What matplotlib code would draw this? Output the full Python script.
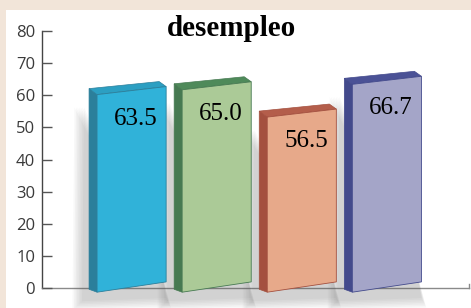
import numpy as np
import matplotlib
matplotlib.use('Agg')
import matplotlib.pyplot as plt
from matplotlib.patches import Polygon, Rectangle

# data
categories = ['A', 'B', 'C', 'D']
values = [63.5, 65.0, 56.5, 66.7]
labels = ['63.5', '65.0', '56.5', '66.7']
title = 'desempleo'
yticks = [0, 10, 20, 30, 40, 50, 60, 70, 80]

# colours: front, side/top
front_cols = ['#30b2d9', '#abca97', '#e7a98a', '#a4a5c8']
side_cols = ['#2b7f9b', '#477a52', '#a4503f', '#434a8c']
top_cols = ['#2c9fc2', '#4f8a5a', '#b45e4b', '#4b5296']

W, H = 471, 308
fig = plt.figure(figsize=(W/100, H/100), dpi=100)
fig.patch.set_facecolor('#f2e5d9')
fig.patches.append(Rectangle((6/W, 0), 1, (H-10)/H, transform=fig.transFigure,
                             facecolor='white', edgecolor='none', zorder=-5))

ax = fig.add_axes([42/W, (H-288)/H, (469-42)/W, (288-31)/H])
ax.set_zorder(2)
ax.set_facecolor('none')
ax.set_xlim(-1.053, 3.965)
ax.set_ylim(0, 80)

pxx = 85.0      # pixels per x unit
pxy = 257/80.   # pixels per y unit
hw = 69/2/pxx   # half width of front face
dx = 8/pxx
dy = 6/pxy

for i, v in enumerate(values):
    xl, xr = i - hw, i + hw
    bl, br = -1.3, 1.9
    tl, tr = v - 3.3, v - 0.8
    # soft shadow, mostly left and below
    for k in range(7):
        g = k*1.6
        sh = Polygon([(xl - dx - (7+g)/pxx, br - 6 - g/pxy), (xr + (0.5*g)/pxx, br - 5 - g/pxy),
                      (xr - 4/pxx, br + 2), (xl - dx - (5+g)/pxx, tl - 4)],
                     closed=True, facecolor='#606060', edgecolor='none', alpha=0.045,
                     zorder=2, clip_on=False)
        ax.add_patch(sh)
    # side face
    side = Polygon([(xl, bl), (xl, tl), (xl - dx, tl + dy), (xl - dx, bl + 0.9)],
                   closed=True, facecolor=side_cols[i], edgecolor=side_cols[i],
                   linewidth=0.5, zorder=3, clip_on=False)
    ax.add_patch(side)
    # top face
    top = Polygon([(xl, tl), (xr, tr), (xr - 7/pxx, tr + 5/pxy), (xl - dx, tl + dy)],
                  closed=True, facecolor=top_cols[i], edgecolor=side_cols[i],
                  linewidth=0.5, zorder=3, clip_on=False)
    ax.add_patch(top)
    # front face
    front = Polygon([(xl, bl), (xr, br), (xr, tr), (xl, tl)], closed=True,
                    facecolor=front_cols[i], edgecolor=side_cols[i], linewidth=0.6,
                    zorder=4, clip_on=False)
    ax.add_patch(front)
    ax.text(i + 0.05, v - 10.8, labels[i], ha='center', va='center',
            fontsize=18, family='Liberation Serif', color='black', zorder=5)

# axes styling
for s in ['top', 'right']:
    ax.spines[s].set_visible(False)
ax.spines['left'].set_color('#444444')
ax.spines['left'].set_linewidth(1.0)
ax.spines['bottom'].set_color('#8a8a8a')
ax.spines['bottom'].set_linewidth(1.0)
ax.spines['left'].set_zorder(1)
ax.spines['bottom'].set_zorder(1)
ax.plot([3.965, 3.965], [0, 1.4], color='#8a8a8a', lw=1.0, clip_on=False, zorder=1)

ax.set_yticks(yticks)
ax.set_yticklabels([str(t) for t in yticks])
ax.set_xticks([])
ax.tick_params(axis='y', direction='in', length=7.2, width=1.0, color='#555555',
               pad=5, labelsize=12, labelcolor='#3a3a3a')
for lab in ax.get_yticklabels():
    lab.set_family('Open Sans')

fig.text(232/W, (H-36)/H, title, ha='center', va='baseline', fontsize=21,
         fontweight='bold', family='Liberation Serif', color='black')

plt.savefig('out.png', dpi=100, facecolor=fig.get_facecolor())
